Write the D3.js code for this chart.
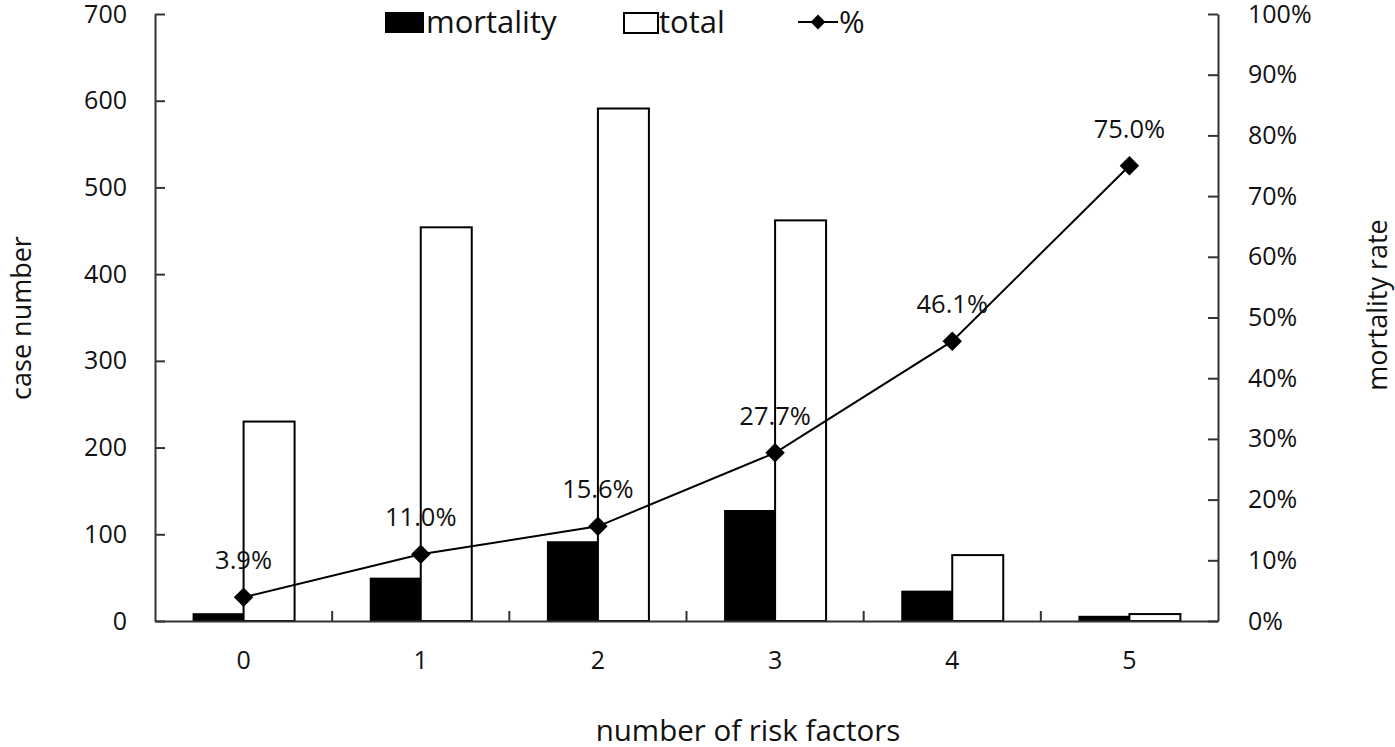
<!DOCTYPE html>
<html>
<head>
<meta charset="utf-8">
<script src="https://cdn.jsdelivr.net/npm/d3@7"></script>
<style>
  body { margin: 0; background: #fff; }
  text { font-family: "Open Sans", "Noto Sans", sans-serif; fill: #111; }
</style>
</head>
<body>
<svg id="chart" width="1395" height="747"></svg>
<script>
var categories = ["0", "1", "2", "3", "4", "5"];
var mortality = [9, 50, 92, 128, 35, 6];
var total = [230, 454, 591, 462, 76, 8];
var percent = [3.9, 11.0, 15.6, 27.7, 46.1, 75.0];
var leftTicks = [0, 100, 200, 300, 400, 500, 600, 700];
var rightTicks = [0, 10, 20, 30, 40, 50, 60, 70, 80, 90, 100];

var svg = d3.select("#chart");
var plotLeft = 155, plotRight = 1218, plotTop = 14, plotBottom = 621;
var axisColor = "#333";

var x = d3.scaleBand().domain(categories).range([plotLeft, plotRight]).padding(0);
var y = d3.scaleLinear().domain([0, 700]).range([plotBottom, plotTop]);
var y2 = d3.scaleLinear().domain([0, 100]).range([plotBottom, plotTop]);
var barW = 51;

// bars
svg.selectAll(".mortBar").data(mortality)
  .enter().append("rect")
  .attr("class", "mortBar")
  .attr("x", function(d, i){ return x(categories[i]) + x.bandwidth()/2 - barW; })
  .attr("y", function(d){ return y(d); })
  .attr("width", barW)
  .attr("height", function(d){ return plotBottom - y(d); })
  .style("fill", "#000");

svg.selectAll(".totBar").data(total)
  .enter().append("rect")
  .attr("class", "totBar")
  .attr("x", function(d, i){ return x(categories[i]) + x.bandwidth()/2; })
  .attr("y", function(d){ return y(d); })
  .attr("width", barW)
  .attr("height", function(d){ return plotBottom - y(d); })
  .style("fill", "#fff")
  .style("stroke", "#000")
  .style("stroke-width", 2);

// axes
var leftAxis = svg.append("g")
  .attr("transform", "translate(" + plotLeft + ",0)")
  .call(d3.axisLeft(y).tickValues(leftTicks).tickSize(-10).tickPadding(28).tickSizeOuter(0));
var rightAxis = svg.append("g")
  .attr("transform", "translate(" + plotRight + ",0)")
  .call(d3.axisRight(y2).tickValues(rightTicks).tickSize(-10).tickPadding(30).tickSizeOuter(0)
    .tickFormat(function(d){ return d + "%"; }));
var bottomAxis = svg.append("g")
  .attr("transform", "translate(0," + plotBottom + ")")
  .call(d3.axisBottom(x).tickSize(0).tickPadding(30));

[leftAxis, rightAxis, bottomAxis].forEach(function(g){
  g.attr("font-size", null).attr("font-family", null);
  g.selectAll("path").style("stroke", axisColor).style("stroke-width", 2);
  g.selectAll("line").style("stroke", axisColor).style("stroke-width", 2);
  g.selectAll("text").style("font-size", "25px").style("fill", "#111");
});
leftAxis.selectAll("text").attr("text-anchor", "end");
rightAxis.selectAll("text").attr("text-anchor", "start");

// category separator ticks pointing up
bottomAxis.selectAll(".sep").data(categories.slice(1))
  .enter().append("line")
  .attr("class", "sep")
  .attr("x1", function(d){ return x(d); })
  .attr("x2", function(d){ return x(d); })
  .attr("y1", 0).attr("y2", -10)
  .style("stroke", axisColor).style("stroke-width", 2);

// percent line
var cx = function(d, i){ return x(categories[i]) + x.bandwidth()/2; };
var line = d3.line()
  .x(function(d, i){ return cx(d, i); })
  .y(function(d){ return y2(d); });

svg.append("path").datum(percent)
  .attr("d", line)
  .style("fill", "none")
  .style("stroke", "#000")
  .style("stroke-width", 2);

var diamond = d3.symbol().type(d3.symbolSquare).size(190);
svg.selectAll(".dot").data(percent)
  .enter().append("path")
  .attr("class", "dot")
  .attr("d", diamond)
  .attr("transform", function(d, i){ return "translate(" + cx(d, i) + "," + y2(d) + ") rotate(45)"; })
  .style("fill", "#000");

svg.selectAll(".pctLabel").data(percent)
  .enter().append("text")
  .attr("class", "pctLabel")
  .attr("x", function(d, i){ return cx(d, i); })
  .attr("y", function(d){ return y2(d) - 28; })
  .attr("text-anchor", "middle")
  .style("font-size", "25.5px")
  .text(function(d){ return d.toFixed(1) + "%"; });

// axis titles
svg.append("text")
  .attr("transform", "translate(31,318) rotate(-90)")
  .attr("text-anchor", "middle")
  .style("font-size", "27px")
  .text("case number");
svg.append("text")
  .attr("transform", "translate(1387,305) rotate(-90)")
  .attr("text-anchor", "middle")
  .style("font-size", "27px")
  .text("mortality rate");
svg.append("text")
  .attr("x", 748).attr("y", 741)
  .attr("text-anchor", "middle")
  .style("font-size", "29.5px")
  .text("number of risk factors");

// legend
var legend = svg.append("g");
legend.append("rect").attr("x", 385).attr("y", 12).attr("width", 39).attr("height", 21).style("fill", "#000");
legend.append("text").attr("x", 426).attr("y", 33).style("font-size", "31px").text("mortality");
legend.append("rect").attr("x", 624).attr("y", 13).attr("width", 34).attr("height", 20)
  .style("fill", "#fff").style("stroke", "#000").style("stroke-width", 2);
legend.append("text").attr("x", 659).attr("y", 33).style("font-size", "31px").text("total");
legend.append("line").attr("x1", 798).attr("x2", 838).attr("y1", 22).attr("y2", 22)
  .style("stroke", "#000").style("stroke-width", 2);
legend.append("path").attr("d", d3.symbol().type(d3.symbolSquare).size(110))
  .attr("transform", "translate(818,22) rotate(45)").style("fill", "#000");
legend.append("text").attr("x", 839).attr("y", 33).style("font-size", "31px").text("%");
</script>
</body>
</html>
